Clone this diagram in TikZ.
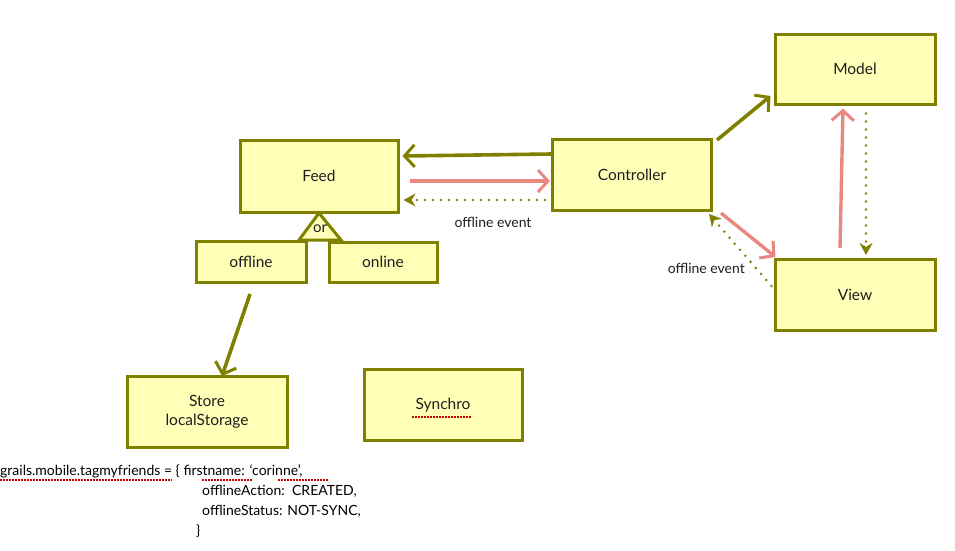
\documentclass[tikz,border=0pt]{standalone}
\usepackage{fontspec}
\setmainfont{Lato}
\usetikzlibrary{arrows.meta,calc}
\definecolor{olv}{RGB}{128,128,0}
\definecolor{boxfill}{RGB}{255,255,184}
\definecolor{pinkarr}{RGB}{232,136,128}
\definecolor{dark}{RGB}{30,30,30}
\tikzset{
  box/.style={draw=olv,fill=boxfill,line width=3pt,inner sep=0pt,align=center,font=\fontsize{15.5}{19}\selectfont,text=dark},
  solidolv/.style={draw=olv,line width=3.6pt,-{Straight Barb[length=10pt,width=22pt,line width=3pt]}},
  solidpink/.style={draw=pinkarr,line width=3.4pt,-{Straight Barb[length=10pt,width=22pt,line width=3pt]}},
  dotolv/.style={draw=olv,line width=2.8pt,dash pattern=on 0pt off 8pt,line cap=round,-{Stealth[length=12pt,width=13pt,fill=olv]}},
  lbl/.style={font=\fontsize{14}{16}\selectfont,text=dark,inner sep=1pt},
  code/.style={font=\fontsize{14}{16}\selectfont,text=black,inner sep=0pt,anchor=base west},
  spell/.style={draw=red!80!black,line width=1.3pt,dash pattern=on 1.5pt off 1.5pt}
}
\begin{document}
\begin{tikzpicture}[x=1pt,y=-1pt]
\useasboundingbox (0,0) rectangle (955,550);
% boxes
\node[box,minimum width=160pt,minimum height=70pt] (model) at (855,69) {Model};
\node[box,minimum width=158pt,minimum height=72pt] (feed) at (319,176) {Feed};
\node[box,minimum width=159pt,minimum height=71pt] (ctrl) at (632,175) {Controller};
\node[box,minimum width=160pt,minimum height=71pt] (view) at (855,295) {View};
\node[box,minimum width=110pt,minimum height=41pt] (offline) at (251,262) {offline};
\node[box,minimum width=108pt,minimum height=40pt] (online) at (383,262) {online};
\node[box,minimum width=160pt,minimum height=71pt] (store) at (207,412) {Store\\localStorage};
\node[box,minimum width=158pt,minimum height=71pt] (synchro) at (443,405) {Synchro};
% or triangle
\coordinate (tA) at (319,213);
\coordinate (tB) at (299,240);
\coordinate (tC) at (341,240);
\draw[draw=olv,fill=boxfill,line width=3pt,line join=miter] (tA) -- (tB) -- (tC) -- cycle;
\node[lbl,font=\fontsize{15}{16}\selectfont] (or) at (320,229) {or};
% connectors
\draw[solidolv] ($(ctrl.west)+(0,-21)$) -- ($(feed.east)+(3,-20)$);
\draw[solidpink] ($(feed.east)+(10,5)$) -- ($(ctrl.west)+(-1,6)$);
\draw[dotolv] ($(ctrl.west)+(2,25)$) -- ($(feed.east)+(4,24)$);
\node[lbl] (ev1) at (493,222) {offline event};
\draw[solidolv] ($(ctrl.north east)+(4,2)$) -- ($(model.west)+(-3,27)$);
\draw[solidpink] ($(ctrl.south east)+(8,1)$) -- ($(view.north west)+(2,-1)$);
\draw[dotolv] ($(view.north west)+(-2,28)$) -- ($(ctrl.south east)+(-4,2)$);
\node[lbl,anchor=east] (ev2) at (746,268) {offline event};
\draw[solidpink] ($(view.north)+(-15,-10)$) -- ($(model.south)+(-12,3)$);
\draw[dotolv] ($(model.south)+(11,8)$) -- ($(view.north)+(11,-3)$);
\draw[solidolv] ($(offline.south)+(-1,10)$) -- ($(store.north)+(15,1)$);
% code text
\node[code] (c1) at (0,475) {grails.mobile.tagmyfriends = \{ firstname: ‘corinne’,};
\node[code] (c2) at (202,495) {offlineAction:~~CREATED,};
\node[code] (c3) at (202,515) {offlineStatus: NOT-SYNC,};
\node[code] (c4) at (196,535) {\}};
% spelling underlines
\draw[spell] (0,480) -- (172,480);
\draw[spell] (202,480) -- (253,480);
\draw[spell] (278,480) -- (329,480);
\draw[spell] (412,417) -- (472,417);
\end{tikzpicture}
\end{document}
